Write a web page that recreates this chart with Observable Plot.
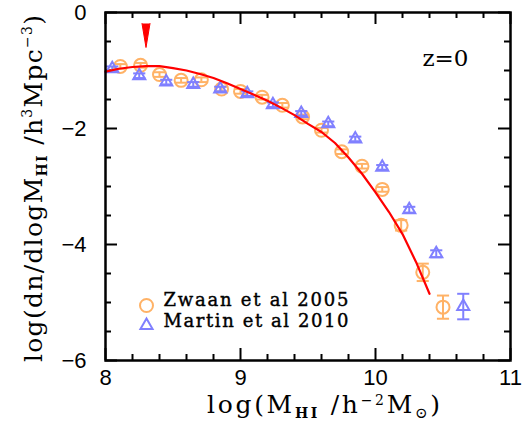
<!DOCTYPE html>
<html>
<head>
<meta charset="utf-8">
<script src="https://cdn.jsdelivr.net/npm/d3@7"></script>
<script src="https://cdn.jsdelivr.net/npm/@observablehq/plot@0.6"></script>
<style>
  html, body { margin: 0; padding: 0; background: white; }
</style>
</head>
<body>
<div id="chart"></div>
<script>
// ---- data ----
const zwaanX   = [8.11, 8.26, 8.40, 8.56, 8.71, 8.86, 9.00, 9.16, 9.31, 9.46, 9.60, 9.75, 9.90, 10.05, 10.19, 10.35, 10.50];
const zwaanY   = [-0.93, -0.91, -1.07, -1.17, -1.16, -1.32, -1.36, -1.46, -1.60, -1.80, -2.03, -2.40, -2.65, -3.05, -3.67, -4.48, -5.08];
const zwaanErr = [0.04, 0.04, 0.04, 0.04, 0.04, 0.04, 0.04, 0.04, 0.04, 0.04, 0.04, 0.04, 0.04, 0.04, 0.09, 0.15, 0.20];

const martinX   = [8.05, 8.25, 8.45, 8.65, 8.85, 9.05, 9.24, 9.45, 9.65, 9.85, 10.05, 10.25, 10.45, 10.65];
const martinY   = [-0.97, -1.09, -1.20, -1.24, -1.32, -1.40, -1.59, -1.74, -1.92, -2.18, -2.67, -3.40, -4.16, -5.07];
const martinErr = [0.04, 0.04, 0.04, 0.04, 0.04, 0.04, 0.04, 0.04, 0.04, 0.04, 0.04, 0.05, 0.06, 0.22];

const modelX = [8.0, 8.1, 8.2, 8.3, 8.4, 8.5, 8.6, 8.7, 8.8, 8.9, 9.0, 9.1, 9.2, 9.3, 9.4, 9.5, 9.6, 9.7, 9.8, 9.9, 10.0, 10.1, 10.2, 10.3, 10.4];
const modelY = [-1.02, -0.97, -0.94, -0.925, -0.925, -0.96, -1.00, -1.06, -1.13, -1.22, -1.32, -1.42, -1.52, -1.64, -1.77, -1.92, -2.06, -2.25, -2.50, -2.78, -3.10, -3.44, -3.82, -4.30, -4.85];

const arrowX = [8.30];
const arrowY = [-0.19];

const xMajor = [8, 9, 10, 11];
const xMinor = [8.2, 8.4, 8.6, 8.8, 9.2, 9.4, 9.6, 9.8, 10.2, 10.4, 10.6, 10.8];
const yMajor = [0, -2, -4, -6];
const yMinor = [-0.5, -1, -1.5, -2.5, -3, -3.5, -4.5, -5, -5.5];

const seriesNames = ["Zwaan et al 2005", "Martin et al 2010"];
const panelLabel = "z=0";

// ---- build tables ----
const zwaan = zwaanX.map((x, i) => ({x, y: zwaanY[i], e: zwaanErr[i]}));
const martin = martinX.map((x, i) => ({x, y: martinY[i], e: martinErr[i]}));
const model = modelX.map((x, i) => ({x, y: modelY[i]}));
const arrow = arrowX.map((x, i) => ({x, y: arrowY[i]}));

const orange = "#ffb266";
const blue = "#8080ff";

const W = 528, H = 443;
const mL = 105, mR = 18, mT = 12, mB = 83;
const iW = W - mL - mR, iH = H - mT - mB;
const majorLen = 12, minorLen = 6;
const capHalf = 0.045;
const serif = "'DejaVu Serif', serif";

function errorMarks(data, color) {
  return [
    Plot.ruleX(data, {x: "x", y1: d => d.y - d.e, y2: d => d.y + d.e, stroke: color, strokeWidth: 2}),
    Plot.link(data, {x1: d => d.x - capHalf, x2: d => d.x + capHalf, y1: d => d.y + d.e, y2: d => d.y + d.e, stroke: color, strokeWidth: 2}),
    Plot.link(data, {x1: d => d.x - capHalf, x2: d => d.x + capHalf, y1: d => d.y - d.e, y2: d => d.y - d.e, stroke: color, strokeWidth: 2})
  ];
}

const fmt = d => d < 0 ? "\u2212" + (-d) : String(d);

const svg = Plot.plot({
  width: W, height: H,
  marginLeft: mL, marginRight: mR, marginTop: mT, marginBottom: mB,
  x: {domain: [8, 11]},
  y: {domain: [-6, 0]},
  style: {fontFamily: "'Liberation Sans', Arial, sans-serif", fontSize: "22px", background: "white", color: "black", overflow: "visible"},
  marks: [
    // minor & major ticks on all four sides (inward)
    Plot.tickX(xMinor, {x: d => d, insetTop: iH - minorLen, strokeWidth: 2}),
    Plot.tickX(xMinor, {x: d => d, insetBottom: iH - minorLen, strokeWidth: 2}),
    Plot.tickX(xMajor, {x: d => d, insetTop: iH - majorLen, strokeWidth: 2}),
    Plot.tickX(xMajor, {x: d => d, insetBottom: iH - majorLen, strokeWidth: 2}),
    Plot.tickY(yMinor, {y: d => d, insetRight: iW - minorLen, strokeWidth: 2}),
    Plot.tickY(yMinor, {y: d => d, insetLeft: iW - minorLen, strokeWidth: 2}),
    Plot.tickY(yMajor, {y: d => d, insetRight: iW - majorLen, strokeWidth: 2}),
    Plot.tickY(yMajor, {y: d => d, insetLeft: iW - majorLen, strokeWidth: 2}),
    Plot.axisX(xMajor, {tickSize: 0, tickPadding: 9, label: null, fontSize: 22, tickFormat: fmt}),
    Plot.axisY(yMajor, {tickSize: 0, tickPadding: 19, label: null, fontSize: 22, tickFormat: fmt}),
    // data
    ...errorMarks(zwaan, orange),
    Plot.dot(zwaan, {x: "x", y: "y", r: 6.5, stroke: orange, strokeWidth: 2, fill: "none"}),
    ...errorMarks(martin, blue),
    Plot.dot(martin, {x: "x", y: "y", r: 4.5, symbol: "triangle", stroke: blue, strokeWidth: 2, fill: "none"}),
    Plot.line(model, {x: "x", y: "y", stroke: "#ff0000", strokeWidth: 2.2}),
    Plot.vector(arrow, {x: "x", y: "y", length: 24, rotate: 180, anchor: "start", shape: "spike", r: 4, fill: "#ff0000", stroke: "#ff0000", strokeWidth: 1}),
    // legend
    Plot.dot([seriesNames[0]], {frameAnchor: "bottom-left", dx: 41, dy: -55, r: 6.5, stroke: orange, strokeWidth: 2, fill: "none"}),
    Plot.dot([seriesNames[1]], {frameAnchor: "bottom-left", dx: 41, dy: -35, r: 4.5, symbol: "triangle", stroke: blue, strokeWidth: 2, fill: "none"}),
    Plot.text([seriesNames[0]], {text: d => d, frameAnchor: "bottom-left", dx: 58, dy: -55, textAnchor: "start", fontSize: 18, fontFamily: serif, className: "legtext"}),
    Plot.text([seriesNames[1]], {text: d => d, frameAnchor: "bottom-left", dx: 58, dy: -34, textAnchor: "start", fontSize: 18, fontFamily: serif, className: "legtext"}),
    Plot.text([panelLabel], {text: d => d, frameAnchor: "top-right", dx: -42, dy: 37, textAnchor: "end", fontSize: 23, fontFamily: serif}),
    Plot.frame({stroke: "black", strokeWidth: 2.5})
  ]
});

const s = d3.select(svg);
// widen legend texts to the reference's spacing
s.selectAll(".legtext text").attr("textLength", 185).attr("lengthAdjust", "spacing").attr("stroke", "black").attr("stroke-width", 0.4);

// axis labels with sub/superscripts
const xl = s.append("text")
  .attr("x", 207).attr("y", 413)
  .attr("text-anchor", "start")
  .attr("textLength", 233).attr("lengthAdjust", "spacing")
  .attr("font-family", serif).attr("font-size", 25).attr("fill", "black");
xl.append("tspan").text("log(M");
xl.append("tspan").attr("dy", 5).attr("font-size", 14).attr("font-weight", "bold").text("HI");
xl.append("tspan").attr("dy", -5).text(" /h");
xl.append("tspan").attr("dy", -8).attr("font-size", 14).text("\u22122");
xl.append("tspan").attr("dy", 8).text("M");
xl.append("tspan").attr("dy", 5).attr("font-size", 15).text("\u2299");
xl.append("tspan").attr("dy", -5).text(")");

const yl = s.append("text")
  .attr("transform", `translate(42,362) rotate(-90)`)
  .attr("text-anchor", "start")
  .attr("textLength", 347).attr("lengthAdjust", "spacing")
  .attr("font-family", serif).attr("font-size", 25).attr("fill", "black");
yl.append("tspan").text("log(dn/dlogM");
yl.append("tspan").attr("dy", 5).attr("font-size", 14).attr("font-weight", "bold").text("HI");
yl.append("tspan").attr("dy", -5).text(" /h");
yl.append("tspan").attr("dy", -10).attr("font-size", 14).text("3");
yl.append("tspan").attr("dy", 10).text("Mpc");
yl.append("tspan").attr("dy", -10).attr("font-size", 14).text("\u22123");
yl.append("tspan").attr("dy", 10).text(")");

document.getElementById("chart").appendChild(svg);
</script>
</body>
</html>
